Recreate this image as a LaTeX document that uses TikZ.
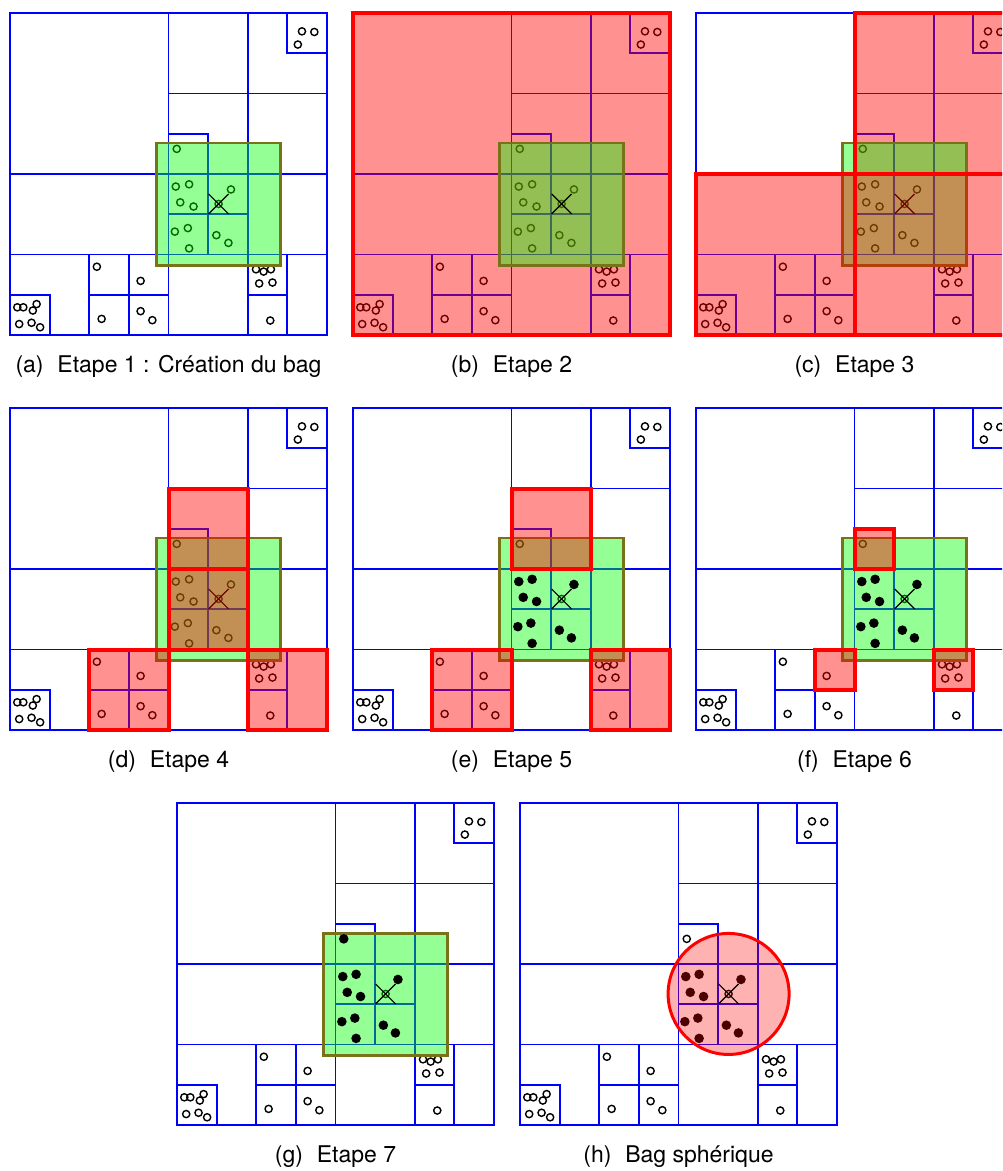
\documentclass[tikz,border=0pt]{standalone}
\usepackage{fontspec}
\setmainfont{TeX Gyre Heros}
\begin{document}
\begin{tikzpicture}[
  x=0.5pt, y=-0.5pt,
  every node/.style={font=\fontsize{11.5}{13.8}\selectfont},
  panel/.style={x=158.5pt, y=-161pt},
  qline/.style={blue, line width=0.9pt},
  openpt/.style={draw=black, line width=0.7pt},
  foundpt/.style={fill=black},
  qmark/.style={black, line width=0.6pt},
  bagbox/.style={fill=green, fill opacity=0.42, draw=olive!80!black, line width=1.4pt},
  redzone/.style={fill=red, fill opacity=0.43},
  redframe/.style={draw=red, line width=2pt},
]
% page in pixels, right column is cut by the page edge
\useasboundingbox (0,0) rectangle (1002,1171);
\clip (0,0) rectangle (1002,1171);

% Points in the unit square of a panel (y goes down)
\def\farpts{0.921/0.057, 0.960/0.059, 0.908/0.098,
  0.274/0.788, 0.412/0.832, 0.289/0.950, 0.412/0.926, 0.449/0.954,
  0.023/0.914, 0.042/0.914, 0.072/0.924, 0.084/0.904, 0.029/0.966, 0.068/0.962, 0.095/0.976,
  0.776/0.796, 0.800/0.803, 0.823/0.796, 0.786/0.840, 0.828/0.837, 0.821/0.955}
\def\cellpts{0.523/0.539, 0.565/0.532, 0.537/0.588, 0.579/0.601, 0.697/0.548,
  0.520/0.679, 0.561/0.668, 0.565/0.731, 0.651/0.690, 0.689/0.714}

% Quadtree, far points, query point and caption of every panel
\foreach \nm/\ox/\oy/\ttl in {
  a/10/13/{Etape 1 : Création du bag},
  b/353/13/{Etape 2},
  c/696/13/{Etape 3},
  d/10/408/{Etape 4},
  e/353/408/{Etape 5},
  f/696/408/{Etape 6},
  g/177/803/{Etape 7},
  h/520/803/{Bag sphérique}%
} {
  \begin{scope}[shift={(\ox,\oy)}, panel]
    \draw[qline] (0,0) rectangle (1,1)
      (0.5,0) -- (0.5,1)  (0.75,0) -- (0.75,1)
      (0,0.5) -- (1,0.5)  (0,0.75) -- (1,0.75)
      (0.5,0.25) -- (1,0.25)
      (0.875,0) -- (0.875,0.125) -- (1,0.125)
      (0.5,0.375) -- (0.625,0.375) -- (0.625,0.75)
      (0.5,0.625) -- (0.75,0.625)
      (0,0.875) -- (0.125,0.875) -- (0.125,1)
      (0.25,0.75) -- (0.25,1)  (0.375,0.75) -- (0.375,1)  (0.25,0.875) -- (0.5,0.875)
      (0.875,0.75) -- (0.875,1)  (0.75,0.875) -- (0.875,0.875);
    \foreach \x/\y in \farpts {
      \draw[openpt] (\x,\y) circle[radius=1.8pt];
    }
    \draw[openpt] (0.658,0.593) circle[radius=1.8pt];
  \end{scope}
  \node[anchor=base] (cap\nm) at ({\ox+158.5},{\oy+359}) {(\nm)\hspace{0.6em}\ttl};
}

% Points not yet found
\foreach \ox/\oy in {10/13, 353/13, 696/13, 10/408} {
  \begin{scope}[shift={(\ox,\oy)}, panel]
    \foreach \x/\y in \cellpts {
      \draw[openpt] (\x,\y) circle[radius=1.8pt];
    }
  \end{scope}
}
\foreach \ox/\oy in {10/13, 353/13, 696/13, 10/408, 353/408, 696/408, 520/803} {
  \begin{scope}[shift={(\ox,\oy)}, panel]
    \draw[openpt] (0.526,0.422) circle[radius=1.8pt];
  \end{scope}
}

% Spherical bag
\begin{scope}[shift={(520,803)}, panel]
  \foreach \x/\y in \cellpts {
    \fill[foundpt] (\x,\y) circle[radius=2.4pt];
  }
  \draw[red, line width=1.5pt, fill=red, fill opacity=0.3] (0.658,0.593) circle[radius=30.25pt];
\end{scope}

% Red zones below the bag
\begin{scope}[shift={(353,13)}, panel]
  \fill[redzone] (0,0) rectangle (1,1);
\end{scope}
\begin{scope}[shift={(696,13)}, panel]
  \fill[redzone] (0.5,0) rectangle (1,0.5);
\end{scope}

% Bag and query cross
\foreach \ox/\oy in {10/13, 353/13, 696/13, 10/408, 353/408, 696/408, 177/803} {
  \begin{scope}[shift={(\ox,\oy)}, panel]
    \draw[bagbox] (0.463,0.404) rectangle (0.853,0.784);
  \end{scope}
}
\foreach \ox/\oy in {10/13, 353/13, 696/13, 10/408, 353/408, 696/408, 177/803, 520/803} {
  \begin{scope}[shift={(\ox,\oy)}, panel]
    \draw[qmark] (0.658,0.593) +(-5pt,-5pt) -- +(5pt,5pt) +(-5pt,5pt) -- +(5pt,-5pt);
  \end{scope}
}

% Points found
\foreach \ox/\oy in {353/408, 696/408, 177/803} {
  \begin{scope}[shift={(\ox,\oy)}, panel]
    \foreach \x/\y in \cellpts {
      \fill[foundpt] (\x,\y) circle[radius=2.4pt];
    }
  \end{scope}
}
\begin{scope}[shift={(177,803)}, panel]
  \fill[foundpt] (0.526,0.422) circle[radius=2.4pt];
\end{scope}

% Red zones above the bag, with frames
\begin{scope}[shift={(353,13)}, panel]
  \draw[redframe] (0,0) rectangle (1,1);
\end{scope}
\begin{scope}[shift={(696,13)}, panel]
  \fill[redzone] (0.5,0.5) rectangle (1,1) (0,0.5) rectangle (0.5,1);
  \draw[redframe] (0.5,0) rectangle (1,0.5) (0.5,0.5) rectangle (1,1) (0,0.5) rectangle (0.5,1);
\end{scope}
\begin{scope}[shift={(10,408)}, panel]
  \foreach \xa/\ya/\xb/\yb in {0.5/0.25/0.75/0.5, 0.5/0.5/0.75/0.75, 0.25/0.75/0.5/1, 0.75/0.75/1/1} {
    \fill[redzone] (\xa,\ya) rectangle (\xb,\yb);
    \draw[redframe] (\xa,\ya) rectangle (\xb,\yb);
  }
\end{scope}
\begin{scope}[shift={(353,408)}, panel]
  \foreach \xa/\ya/\xb/\yb in {0.5/0.25/0.75/0.5, 0.25/0.75/0.5/1, 0.75/0.75/1/1} {
    \fill[redzone] (\xa,\ya) rectangle (\xb,\yb);
    \draw[redframe] (\xa,\ya) rectangle (\xb,\yb);
  }
\end{scope}
\begin{scope}[shift={(696,408)}, panel]
  \foreach \xa/\ya/\xb/\yb in {0.5/0.375/0.625/0.5, 0.375/0.75/0.5/0.875, 0.75/0.75/0.875/0.875} {
    \fill[redzone] (\xa,\ya) rectangle (\xb,\yb);
    \draw[redframe] (\xa,\ya) rectangle (\xb,\yb);
  }
\end{scope}

\end{tikzpicture}
\end{document}
